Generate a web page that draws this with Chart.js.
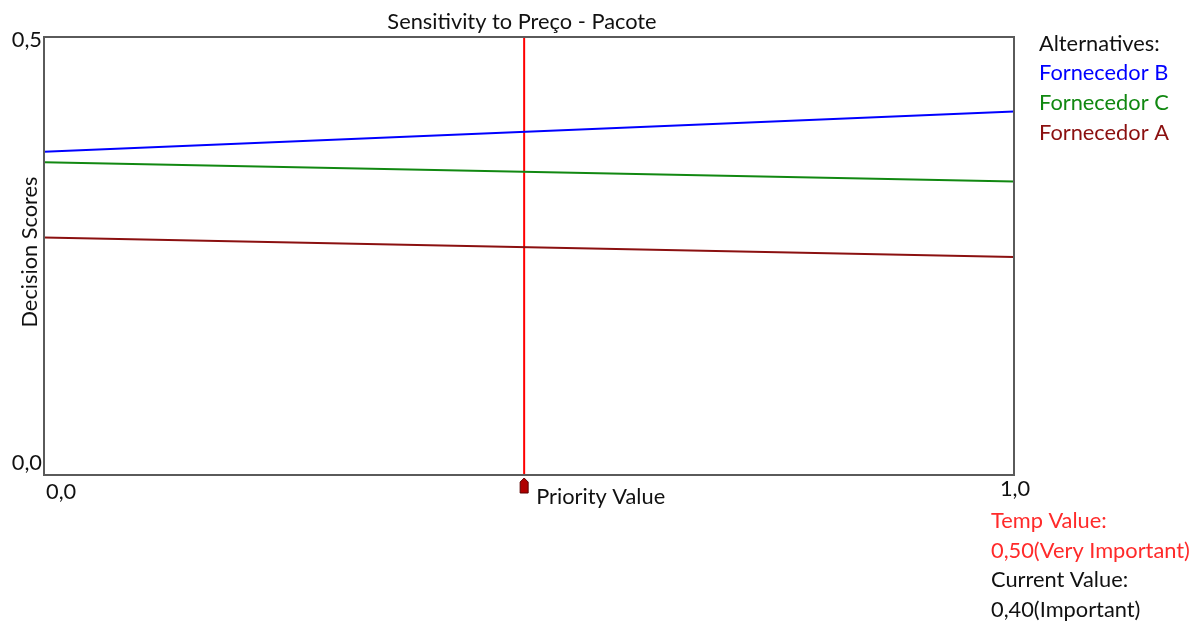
<!DOCTYPE html>
<html><head><meta charset="utf-8">
<script src="https://cdn.jsdelivr.net/npm/chart.js@4"></script>
<style>html,body{margin:0;padding:0;background:#fff;}#wrap{width:1198px;height:621px;position:relative;}</style>
</head><body><div id="wrap"><canvas id="c" width="1198" height="621"></canvas></div>
<script>
const title = "Sensitivity to Preço - Pacote";
const alternatives = ["Fornecedor B", "Fornecedor C", "Fornecedor A"];
const priorityX = [0.0, 1.0];
const scoresB = [0.369, 0.415];
const scoresC = [0.357, 0.335];
const scoresA = [0.271, 0.249];
const tempLinePos = 0.495;   // position of the red marker line
const yTickLabels = ["0,5", "0,0"];
const xTickLabels = ["0,0", "1,0"];
const infoLines = ["Temp Value:", "0,50(Very Important)", "Current Value:", "0,40(Important)"];

const colors = ["#0000ff", "#118811", "#8b1010"];
const FONT = "Lato, 'Open Sans', sans-serif";
const FS = "21.8px ";
const seriesVals = [scoresB, scoresC, scoresA];

const datasets = alternatives.map((name, i) => ({
  label: name,
  data: priorityX.map((x, j) => ({x: x, y: seriesVals[i][j]})),
  borderColor: colors[i], borderWidth: 2, pointRadius: 0, tension: 0, fill: false
}));
datasets.push({
  label: "Temp Value",
  data: [{x: tempLinePos, y: 0}, {x: tempLinePos, y: 0.5}],
  borderColor: "#ff0000", borderWidth: 2, pointRadius: 0, fill: false
});

const deco = {
  id: 'deco',
  afterDraw(chart) {
    const ctx = chart.ctx, a = chart.chartArea;
    const xs = chart.scales.x, ys = chart.scales.y;
    ctx.save();
    ctx.strokeStyle = "#5a5a5a"; ctx.lineWidth = 2;
    ctx.strokeRect(a.left, a.top, a.right - a.left, a.bottom - a.top);
    ctx.fillStyle = "#111"; ctx.textBaseline = "middle";
    ctx.font = FS + FONT;
    ctx.textAlign = "center";
    ctx.fillText(title, 522, 22);
    ctx.textAlign = "right";
    ctx.fillText(yTickLabels[0], a.left - 2, ys.getPixelForValue(0.5) + 3);
    ctx.fillText(yTickLabels[1], a.left - 2, ys.getPixelForValue(0) - 12);
    ctx.textAlign = "left";
    ctx.fillText(xTickLabels[0], xs.getPixelForValue(0) + 2, a.bottom + 17);
    ctx.textAlign = "center";
    ctx.fillText(xTickLabels[1], xs.getPixelForValue(1) + 1, a.bottom + 14);
    ctx.textAlign = "left";
    ctx.fillText("Priority Value", xs.getPixelForValue(tempLinePos) + 12, a.bottom + 22);
    ctx.save();
    ctx.translate(30, 252); ctx.rotate(-Math.PI / 2);
    ctx.textAlign = "center";
    ctx.fillText("Decision Scores", 0, 0);
    ctx.restore();
    ctx.textAlign = "left";
    ctx.fillStyle = "#111";
    ctx.fillText("Alternatives:", 1039, 44);
    alternatives.forEach((n, i) => { ctx.fillStyle = colors[i]; ctx.fillText(n, 1039, 73 + i * 30); });
    const infoColors = ["#ff2a2a", "#ff2a2a", "#111", "#111"];
    infoLines.forEach((t, i) => { ctx.fillStyle = infoColors[i]; ctx.fillText(t, 991, 521 + i * 29.5); });
    const mx = xs.getPixelForValue(tempLinePos);
    const my = a.bottom + 3;
    ctx.fillStyle = "#b00000"; ctx.strokeStyle = "#5a0000"; ctx.lineWidth = 1;
    ctx.beginPath();
    ctx.moveTo(mx - 4, my + 4);
    ctx.lineTo(mx, my);
    ctx.lineTo(mx + 4, my + 4);
    ctx.lineTo(mx + 4, my + 15);
    ctx.lineTo(mx - 4, my + 15);
    ctx.closePath();
    ctx.fill(); ctx.stroke();
    ctx.restore();
  }
};

new Chart(document.getElementById('c'), {
  type: 'line',
  data: {datasets},
  options: {
    responsive: false, animation: false, devicePixelRatio: 1,
    layout: {padding: {left: 44, right: 184, top: 37, bottom: 146}},
    plugins: {legend: {display: false}, tooltip: {enabled: false}, title: {display: false}},
    scales: {
      x: {type: 'linear', min: 0, max: 1, display: false},
      y: {type: 'linear', min: 0, max: 0.5, display: false}
    }
  },
  plugins: [deco]
});
</script></body></html>
